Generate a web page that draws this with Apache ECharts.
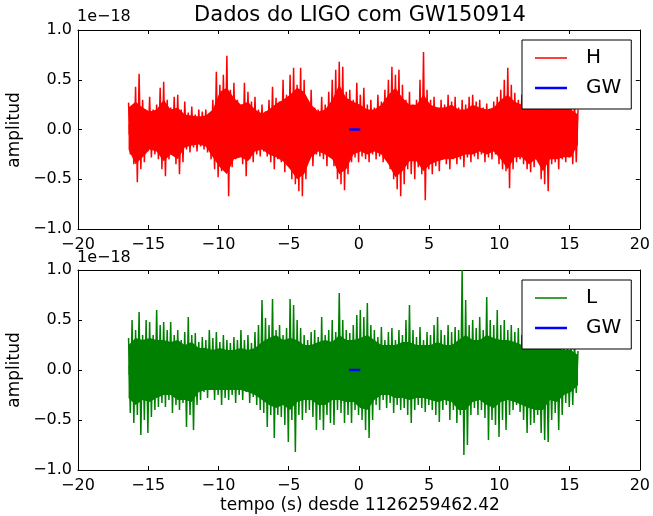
<!DOCTYPE html>
<html>
<head>
<meta charset="utf-8">
<script src="https://cdn.jsdelivr.net/npm/echarts@6/dist/echarts.min.js"></script>
<style>
  html, body { margin: 0; padding: 0; background: #fff; }
  #grafico { width: 653px; height: 516px; }
</style>
</head>
<body>
<div id="grafico"></div>
<script>
// tempo (s) da primeira amostra e passo entre os picos lidos
const tInicio = -16.4
const tPasso = 0.25
// passo da faixa solida (nucleo do ruido)
const tPassoNucleo = 0.5

// envoltoria, unidades de 1e-18
const hPicos = [0.27, 0.22, 0.43, 0.56, 0.30, 0.18, 0.33, 0.20, 0.25, 0.42, 0.48, 0.30, 0.22, 0.33, 0.35, 0.20,
  0.28, 0.17, 0.23, 0.15, 0.20, 0.18, 0.20, 0.16, 0.30, 0.58, 0.45, 0.55, 0.74, 0.40, 0.47, 0.30,
  0.25, 0.47, 0.38, 0.28, 0.33, 0.20, 0.25, 0.18, 0.30, 0.43, 0.32, 0.28, 0.50, 0.35, 0.55, 0.62,
  0.45, 0.62, 0.50, 0.30, 0.40, 0.22, 0.20, 0.33, 0.25, 0.38, 0.50, 0.60, 0.68, 0.63, 0.38, 0.40,
  0.30, 0.47, 0.35, 0.42, 0.25, 0.30, 0.22, 0.35, 0.28, 0.40, 0.50, 0.63, 0.55, 0.60, 0.45, 0.30,
  0.38, 0.25, 0.30, 0.50, 0.78, 0.40, 0.30, 0.33, 0.22, 0.30, 0.25, 0.35, 0.28, 0.33, 0.22, 0.30,
  0.25, 0.33, 0.35, 0.28, 0.30, 0.22, 0.26, 0.20, 0.28, 0.33, 0.40, 0.50, 0.62, 0.45, 0.37, 0.30,
  0.35, 0.28, 0.32, 0.25, 0.30, 0.35, 0.28, 0.30, 0.22, 0.30, 0.25, 0.32, 0.28, 0.30, 0.25, 0.28, 0.20]
const hVales = [-0.25, -0.35, -0.53, -0.40, -0.33, -0.22, -0.28, -0.25, -0.30, -0.40, -0.47, -0.30, -0.25, -0.35, -0.45, -0.33,
  -0.20, -0.23, -0.18, -0.22, -0.17, -0.20, -0.23, -0.30, -0.40, -0.48, -0.42, -0.35, -0.67, -0.38, -0.30, -0.25,
  -0.35, -0.47, -0.30, -0.33, -0.25, -0.27, -0.22, -0.27, -0.33, -0.40, -0.30, -0.33, -0.43, -0.35, -0.50, -0.55,
  -0.62, -0.67, -0.50, -0.30, -0.37, -0.25, -0.27, -0.30, -0.37, -0.28, -0.37, -0.50, -0.55, -0.61, -0.45, -0.33,
  -0.28, -0.33, -0.27, -0.30, -0.33, -0.25, -0.30, -0.27, -0.33, -0.28, -0.40, -0.50, -0.60, -0.67, -0.55, -0.40,
  -0.45, -0.50, -0.38, -0.45, -0.71, -0.40, -0.45, -0.37, -0.42, -0.30, -0.35, -0.40, -0.30, -0.35, -0.30, -0.38,
  -0.28, -0.33, -0.27, -0.30, -0.25, -0.33, -0.28, -0.30, -0.25, -0.35, -0.40, -0.42, -0.59, -0.40, -0.33, -0.30,
  -0.35, -0.40, -0.43, -0.38, -0.30, -0.50, -0.55, -0.62, -0.35, -0.33, -0.40, -0.30, -0.33, -0.28, -0.35, -0.33, -0.20]
// faixa solida do sinal H, um valor a cada meio segundo
const hNucleoSup = [0.22, 0.28, 0.22, 0.18, 0.20, 0.30, 0.20, 0.22, 0.15, 0.14,
  0.13, 0.14, 0.20, 0.38, 0.42, 0.32, 0.25, 0.28, 0.20, 0.16,
  0.20, 0.26, 0.30, 0.35, 0.42, 0.38, 0.25, 0.18, 0.20, 0.30,
  0.45, 0.32, 0.28, 0.25, 0.20, 0.20, 0.25, 0.35, 0.42, 0.32,
  0.25, 0.25, 0.35, 0.25, 0.22, 0.22, 0.25, 0.20, 0.20, 0.25,
  0.22, 0.20, 0.22, 0.30, 0.35, 0.28, 0.25, 0.25, 0.22, 0.25,
  0.20, 0.22, 0.22, 0.20, 0.15]
const hNucleoInf = [-0.20, -0.35, -0.28, -0.20, -0.22, -0.32, -0.25, -0.30, -0.18, -0.16,
  -0.15, -0.17, -0.28, -0.38, -0.45, -0.30, -0.28, -0.32, -0.22, -0.20,
  -0.25, -0.28, -0.32, -0.40, -0.50, -0.45, -0.28, -0.22, -0.25, -0.30,
  -0.45, -0.40, -0.25, -0.22, -0.25, -0.22, -0.25, -0.35, -0.48, -0.42,
  -0.32, -0.32, -0.42, -0.35, -0.32, -0.30, -0.30, -0.28, -0.25, -0.25,
  -0.22, -0.25, -0.22, -0.30, -0.40, -0.28, -0.28, -0.35, -0.30, -0.42,
  -0.30, -0.30, -0.28, -0.28, -0.15]

const lPicos = [0.32, 0.50, 0.40, 0.58, 0.35, 0.50, 0.48, 0.35, 0.60, 0.45, 0.48, 0.40, 0.48, 0.35, 0.40, 0.30,
  0.38, 0.53, 0.35, 0.37, 0.28, 0.33, 0.30, 0.40, 0.32, 0.38, 0.28, 0.35, 0.30, 0.27, 0.33, 0.30,
  0.40, 0.30, 0.35, 0.27, 0.38, 0.45, 0.70, 0.52, 0.45, 0.71, 0.40, 0.45, 0.35, 0.42, 0.71, 0.65,
  0.50, 0.42, 0.35, 0.30, 0.38, 0.40, 0.33, 0.53, 0.35, 0.40, 0.50, 0.38, 0.77, 0.50, 0.40, 0.37,
  0.45, 0.55, 0.60, 0.53, 0.67, 0.45, 0.40, 0.33, 0.43, 0.30, 0.38, 0.42, 0.30, 0.40, 0.35, 0.50,
  0.65, 0.40, 0.33, 0.43, 0.30, 0.38, 0.35, 0.45, 0.53, 0.40, 0.35, 0.45, 0.38, 0.43, 0.40, 1.00,
  0.70, 0.45, 0.50, 0.42, 0.53, 0.40, 0.73, 0.50, 0.45, 0.60, 0.45, 0.50, 0.40, 0.45, 0.38, 0.42,
  0.35, 0.30, 0.33, 0.28, 0.35, 0.30, 0.28, 0.33, 0.25, 0.30, 0.28, 0.32, 0.25, 0.30, 0.25, 0.28, 0.19]
const lVales = [-0.43, -0.53, -0.45, -0.65, -0.50, -0.63, -0.47, -0.40, -0.37, -0.33, -0.37, -0.30, -0.43, -0.35, -0.40, -0.33,
  -0.57, -0.45, -0.60, -0.35, -0.30, -0.22, -0.28, -0.20, -0.30, -0.25, -0.35, -0.28, -0.30, -0.25, -0.33, -0.25,
  -0.30, -0.22, -0.33, -0.27, -0.35, -0.40, -0.43, -0.57, -0.45, -0.68, -0.45, -0.47, -0.55, -0.72, -0.50, -0.82,
  -0.45, -0.50, -0.43, -0.40, -0.47, -0.60, -0.50, -0.60, -0.45, -0.53, -0.55, -0.40, -0.43, -0.53, -0.45, -0.53,
  -0.40, -0.45, -0.50, -0.60, -0.68, -0.50, -0.35, -0.40, -0.30, -0.38, -0.33, -0.43, -0.35, -0.40, -0.38, -0.45,
  -0.53, -0.40, -0.35, -0.38, -0.42, -0.35, -0.40, -0.45, -0.52, -0.40, -0.35, -0.50, -0.40, -0.53, -0.45, -0.85,
  -0.75, -0.45, -0.38, -0.45, -0.40, -0.48, -0.70, -0.50, -0.55, -0.67, -0.50, -0.60, -0.45, -0.40, -0.35, -0.42,
  -0.50, -0.63, -0.55, -0.53, -0.45, -0.63, -0.70, -0.72, -0.50, -0.43, -0.60, -0.45, -0.33, -0.37, -0.35, -0.23, -0.20]
// faixa solida do sinal L, um valor a cada meio segundo
const lNucleoSup = [0.25, 0.32, 0.30, 0.32, 0.30, 0.30, 0.28, 0.30, 0.25, 0.28,
  0.22, 0.22, 0.20, 0.22, 0.20, 0.20, 0.22, 0.20, 0.22, 0.28,
  0.32, 0.35, 0.30, 0.32, 0.30, 0.25, 0.25, 0.28, 0.30, 0.28,
  0.35, 0.30, 0.30, 0.32, 0.35, 0.30, 0.25, 0.25, 0.25, 0.28,
  0.28, 0.25, 0.25, 0.25, 0.28, 0.25, 0.25, 0.30, 0.35, 0.30,
  0.30, 0.35, 0.32, 0.30, 0.30, 0.28, 0.25, 0.25, 0.25, 0.25,
  0.22, 0.22, 0.20, 0.20, 0.15]
const lNucleoInf = [-0.28, -0.35, -0.30, -0.32, -0.28, -0.25, -0.25, -0.30, -0.30, -0.32,
  -0.22, -0.20, -0.20, -0.20, -0.20, -0.20, -0.20, -0.22, -0.25, -0.30,
  -0.35, -0.38, -0.35, -0.40, -0.32, -0.30, -0.30, -0.35, -0.35, -0.30,
  -0.30, -0.32, -0.32, -0.38, -0.40, -0.30, -0.25, -0.25, -0.28, -0.28,
  -0.30, -0.28, -0.28, -0.30, -0.32, -0.30, -0.32, -0.40, -0.40, -0.32,
  -0.30, -0.35, -0.38, -0.32, -0.30, -0.32, -0.35, -0.38, -0.40, -0.40,
  -0.30, -0.32, -0.25, -0.22, -0.15]

// modelo GW (amplitude ~0 nesta escala)
const gwTempo = [-0.7, -0.5, -0.3, -0.1, 0.1]
const gwAmp = [0, 0, 0, 0, 0]

const xTicks = [-20, -15, -10, -5, 0, 5, 10, 15, 20]
const yTicks = [-1.0, -0.5, 0.0, 0.5, 1.0]

const fonte = 'DejaVu Sans'

function montar(picos, vales) {
  const pts = []
  picos.forEach((p, i) => {
    const t = tInicio + i * tPasso
    pts.push([t, p])
    // o ultimo vale ficaria depois do fim do registro
    if (i < picos.length - 1) pts.push([t + tPasso / 2, vales[i]])
  })
  return pts
}

function nucleo(vals) {
  return vals.map((v, i) => [tInicio + i * tPassoNucleo, v])
}

function menos(v, casas) {
  return (v < 0 ? '\u2212' : '') + Math.abs(v).toFixed(casas)
}

const myChart = echarts.init(document.getElementById('grafico'), null, { renderer: 'canvas' })

const grades = [
  { left: 78, top: 30, width: 564, height: 199 },
  { left: 78, top: 270, width: 564, height: 200 }
]

const xAxis = []
const yAxis = []
grades.forEach((g, gi) => {
  ;['bottom', 'top'].forEach(pos => {
    xAxis.push({
      type: 'value', gridIndex: gi, position: pos,
      min: xTicks[0], max: xTicks[xTicks.length - 1], interval: 5,
      axisLine: { show: true, onZero: false, lineStyle: { color: '#000', width: 1 } },
      axisTick: { show: true, inside: true, length: 4, lineStyle: { color: '#000' } },
      axisLabel: {
        show: pos === 'bottom', color: '#000', fontSize: 16, fontFamily: fonte, margin: 8,
        formatter: v => menos(v, 0)
      },
      splitLine: { show: false }
    })
  })
  ;['left', 'right'].forEach(pos => {
    yAxis.push({
      type: 'value', gridIndex: gi, position: pos,
      min: yTicks[0], max: yTicks[yTicks.length - 1], interval: 0.5,
      axisLine: { show: true, onZero: false, lineStyle: { color: '#000', width: 1 } },
      axisTick: { show: true, inside: true, length: 4, lineStyle: { color: '#000' } },
      axisLabel: {
        show: pos === 'left', color: '#000', fontSize: 16, fontFamily: fonte, margin: 6,
        formatter: v => menos(v, 1)
      },
      splitLine: { show: false }
    })
  })
})

const gw = gwTempo.map((t, i) => [t, gwAmp[i]])

// icone de linha: fio invisivel segura a altura, barra central = espessura
const iconeFino = 'path://M0,0h0.01v14h-0.01z M0,6.3h32v1.4h-32z'
const iconeGrosso = 'path://M0,0h0.01v14h-0.01z M0,5.7h32v2.6h-32z'

const legenda = (top, nome) => ({
  orient: 'vertical', left: 522, top: top,
  data: [{ name: nome, icon: iconeFino }, { name: 'GW', icon: iconeGrosso }],
  backgroundColor: '#fff', borderColor: '#000', borderWidth: 1, borderRadius: 0,
  padding: [8, 10, 11, 13],
  itemWidth: 32, itemHeight: 14, itemGap: 10,
  textStyle: { fontSize: 20, fontFamily: fonte, color: '#000', padding: [0, 0, 0, 14] },
  selectedMode: false
})

// as duas metades da faixa se sobrepoem um pouco para nao deixar costura em zero
const faixa = (nome, dados, cor, xi, origem) => ({
  name: nome, type: 'line', xAxisIndex: xi, yAxisIndex: xi,
  data: dados, showSymbol: false, symbol: 'none', silent: true,
  lineStyle: { width: 0, color: cor }, itemStyle: { color: cor },
  areaStyle: { color: cor, opacity: 1, origin: origem }
})

const option = {
  animation: false,
  grid: grades,
  xAxis: xAxis,
  yAxis: yAxis,
  legend: [legenda(40, 'H'), legenda(280, 'L')],
  series: [
    faixa('H', nucleo(hNucleoSup), '#ff0000', 0, -0.05),
    faixa('H', nucleo(hNucleoInf), '#ff0000', 0, 0.05),
    {
      name: 'H', type: 'line', xAxisIndex: 0, yAxisIndex: 0,
      data: montar(hPicos, hVales), showSymbol: false, symbol: 'none',
      lineStyle: { color: '#ff0000', width: 1.5 }, itemStyle: { color: '#ff0000' }
    },
    {
      name: 'GW', type: 'line', xAxisIndex: 0, yAxisIndex: 0,
      data: gw, showSymbol: false, symbol: 'none',
      lineStyle: { color: '#0000ff', width: 2.5 }, itemStyle: { color: '#0000ff' }
    },
    faixa('L', nucleo(lNucleoSup), '#008000', 2, -0.05),
    faixa('L', nucleo(lNucleoInf), '#008000', 2, 0.05),
    {
      name: 'L', type: 'line', xAxisIndex: 2, yAxisIndex: 2,
      data: montar(lPicos, lVales), showSymbol: false, symbol: 'none',
      lineStyle: { color: '#008000', width: 1.5 }, itemStyle: { color: '#008000' }
    },
    {
      name: 'GW', type: 'line', xAxisIndex: 2, yAxisIndex: 2,
      data: gw, showSymbol: false, symbol: 'none',
      lineStyle: { color: '#0000ff', width: 2.5 }, itemStyle: { color: '#0000ff' }
    }
  ],
  graphic: [
    { type: 'text', x: 360, y: 16, style: { text: 'Dados do LIGO com GW150914', font: '21px "DejaVu Sans"', fill: '#000', align: 'center', verticalAlign: 'middle' } },
    { type: 'text', x: 77, y: 9, style: { text: '1e\u221218', font: '16px "DejaVu Sans"', fill: '#000' } },
    { type: 'text', x: 77, y: 250, style: { text: '1e\u221218', font: '16px "DejaVu Sans"', fill: '#000' } },
    { type: 'text', x: 15, y: 130, rotation: Math.PI / 2, style: { text: 'amplitud', font: '17px "DejaVu Sans"', fill: '#000', align: 'center', verticalAlign: 'middle' } },
    { type: 'text', x: 15, y: 370, rotation: Math.PI / 2, style: { text: 'amplitud', font: '17px "DejaVu Sans"', fill: '#000', align: 'center', verticalAlign: 'middle' } },
    { type: 'text', x: 360, y: 506, style: { text: 'tempo (s) desde 1126259462.42', font: '17px "DejaVu Sans"', fill: '#000', align: 'center', verticalAlign: 'middle' } }
  ]
}

myChart.setOption(option)
window.addEventListener('resize', () => { myChart.resize() })
</script>
</body>
</html>
